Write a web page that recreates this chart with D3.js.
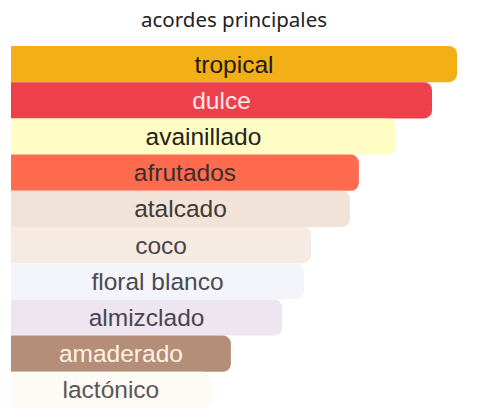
<!DOCTYPE html>
<html>
<head>
<meta charset="utf-8">
<script src="https://cdn.jsdelivr.net/npm/d3@7"></script>
<style>
  html, body { margin: 0; padding: 0; background: #ffffff; }
  svg { display: block; }
</style>
</head>
<body>
<svg id="chart" width="480" height="418"></svg>
<script>
const title = "acordes principales";
const accords = ["tropical", "dulce", "avainillado", "afrutados", "atalcado", "coco", "floral blanco", "almizclado", "amaderado", "lactónico"];
const strengths = [100, 94.4, 86.3, 78.0, 76.0, 67.3, 65.7, 60.8, 49.3, 44.8];
const barColors = ["#F3AF16", "#EE404B", "#FFFDC3", "#FF6B4F", "#F2E3D9", "#F6EBE3", "#F4F5FA", "#EDE6F0", "#B48E78", "#FEFAF6"];
const textColors = ["#1c1c1c", "#fde9eb", "#222222", "#3b2d2a", "#3d3a38", "#4a4545", "#4a4a50", "#4a4550", "#fff3e4", "#5a5656"];

const svg = d3.select("#chart");

const x = d3.scaleLinear().domain([0, 100]).range([11, 457]);
const y = d3.scaleBand().domain(accords).range([46, 408]).padding(0);

svg.append("text")
  .attr("x", 234)
  .attr("y", 27)
  .attr("text-anchor", "middle")
  .attr("font-family", "'Noto Sans', 'Open Sans', sans-serif")
  .attr("font-size", 20.5)
  .attr("fill", "#222")
  .text(title);

function barPath(x0, x1, y0, h, r) {
  const p = d3.path();
  p.moveTo(x0, y0);
  p.lineTo(x1 - r, y0);
  p.arcTo(x1, y0, x1, y0 + r, r);
  p.lineTo(x1, y0 + h - r);
  p.arcTo(x1, y0 + h, x1 - r, y0 + h, r);
  p.lineTo(x0, y0 + h);
  p.closePath();
  return p.toString();
}

const data = accords.map((a, i) => ({name: a, value: strengths[i], color: barColors[i], tc: textColors[i]}));

svg.append("g").selectAll("path")
  .data(data)
  .join("path")
  .attr("d", d => barPath(x(0), x(d.value), y(d.name), y.bandwidth(), 8))
  .attr("fill", d => d.color);

svg.append("g").selectAll("text")
  .data(data)
  .join("text")
  .attr("x", d => (x(0) + x(d.value)) / 2)
  .attr("y", d => y(d.name) + y.bandwidth() / 2)
  .attr("dy", "0.35em")
  .attr("text-anchor", "middle")
  .attr("font-family", "'Liberation Sans', Arial, sans-serif")
  .attr("font-size", 24.5)
  .attr("fill", d => d.tc)
  .text(d => d.name);
</script>
</body>
</html>
